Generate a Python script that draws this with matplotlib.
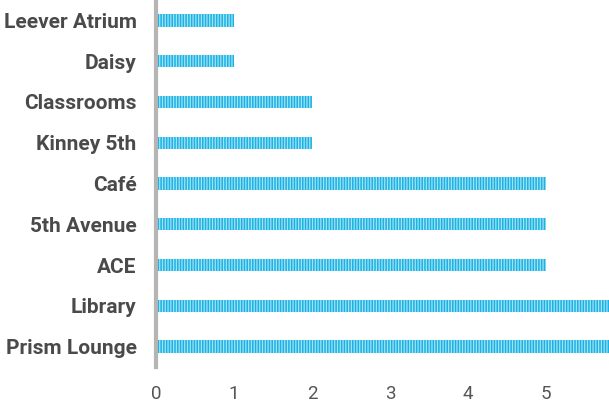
import matplotlib
matplotlib.use("Agg")
import matplotlib.pyplot as plt

categories = ["Leever Atrium", "Daisy", "Classrooms", "Kinney 5th", "Café",
              "5th Avenue", "ACE", "Library", "Prism Lounge"]
values = [1, 1, 2, 2, 5, 5, 5, 6, 6]
xticks = [0, 1, 2, 3, 4, 5]

plt.rcParams['hatch.linewidth'] = 0.9
fig = plt.figure(figsize=(6.09, 4.07), dpi=100)
ax = fig.add_axes([156/609, 1-367/407, 1-156/609, 367/407])

ypos = list(range(len(categories)))
ax.barh(ypos, values, height=0.3, color='#1ab2e2', edgecolor='#a3e2f6',
        hatch='||||||', linewidth=0)
ax.set_ylim(len(categories)-0.5, -0.5)
ax.set_xlim(0, 5.81)
ax.set_yticks(ypos)
ax.set_yticklabels(categories, fontsize=15, fontweight='bold', color='#4a4a4a',
                   family=['Roboto', 'DejaVu Sans'])
ax.set_xticks(xticks)
ax.set_xticklabels([str(t) for t in xticks], fontsize=13.5, color='#555555',
                   family=['Roboto', 'DejaVu Sans'])
ax.tick_params(axis='both', length=0)
ax.tick_params(axis='y', pad=14)
ax.tick_params(axis='x', pad=13)
for s in ['top', 'right', 'bottom']:
    ax.spines[s].set_visible(False)
ax.spines['left'].set_color('#b5b5b5')
ax.spines['left'].set_linewidth(3)
ax.set_facecolor('white')
fig.savefig('out.png', dpi=100, facecolor='white')
